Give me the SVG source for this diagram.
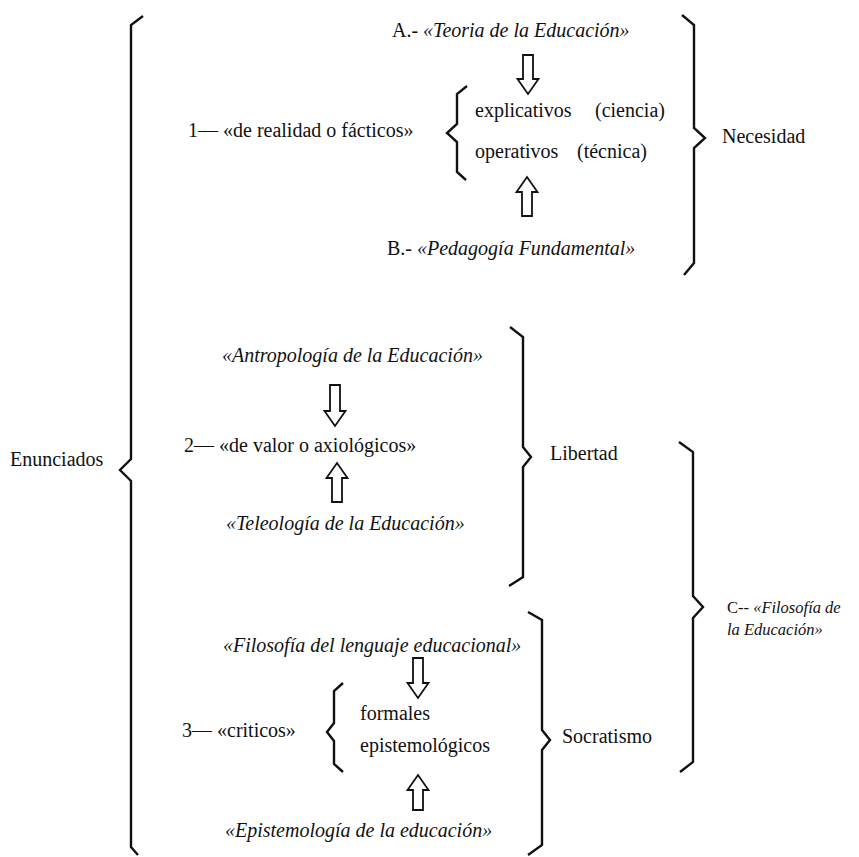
<svg xmlns="http://www.w3.org/2000/svg" width="859" height="857" viewBox="0 0 859 857">
<style>
text{font-family:"Liberation Serif","Times New Roman",serif;font-size:20px;fill:#111}
.it{font-style:italic}
.sm{font-size:16.5px}
.br{fill:none;stroke:#111;stroke-width:2.4;stroke-linejoin:miter}
.ar{fill:#fff;stroke:#111;stroke-width:1.8;stroke-linejoin:miter}
</style>
<rect width="859" height="857" fill="#fff"/>
<g id="connectors">
<path class="br" d="M143,16 L131,25 L131,459 L120,470 L131,481 L131,847 L138,855"/>
<path class="br" d="M467,86 L457,94 L457,124 L447,133 L457,142 L457,172 L466,180"/>
<path class="br" d="M682,15 L694,25 L694,128 L705,138 L694,148 L694,263 L684,275"/>
<path class="br" d="M510,327 L523,337 L523,447 L531,457 L523,467 L523,577 L509,586"/>
<path class="br" d="M679,442 L693,452 L693,596 L703,607 L693,618 L693,762 L680,772"/>
<path class="br" d="M343,683 L334,691 L334,723 L327,732 L334,741 L334,764 L343,772"/>
<path class="br" d="M528,612 L542,620 L542,730 L550,740 L542,750 L542,845 L528,855"/>
<polygon class="ar" points="523,55 533,55 533,79 538.5,79 528,94 517.5,79 523,79"/>
<polygon class="ar" points="527,177 537.5,192 532,192 532,216 522,216 522,192 516.5,192"/>
<polygon class="ar" points="330,385 340,385 340,411 345.5,411 335,426 324.5,411 330,411"/>
<polygon class="ar" points="337,463 347.5,478 342,478 342,502 332,502 332,478 326.5,478"/>
<polygon class="ar" points="413,658 423,658 423,683 428.5,683 418,698 407.5,683 413,683"/>
<polygon class="ar" points="418,775 428.5,790 423,790 423,810 413,810 413,790 407.5,790"/>
</g>
<g id="enunciados"><text x="10" y="466">Enunciados</text></g>
<g id="teoria"><text x="392" y="37">A.- <tspan class="it">«Teoria de la Educación»</tspan></text></g>
<g id="facticos"><text x="188" y="137">1—  «de realidad o fácticos»</text></g>
<g id="explicativos"><text x="475" y="117">explicativos</text><text x="595" y="117">(ciencia)</text></g>
<g id="operativos"><text x="475" y="158">operativos</text><text x="577" y="158">(técnica)</text></g>
<g id="pedagogia"><text x="387" y="255">B.- <tspan class="it">«Pedagogía Fundamental»</tspan></text></g>
<g id="necesidad"><text x="722" y="143">Necesidad</text></g>
<g id="antropologia"><text class="it" x="222" y="362">«Antropología de la Educación»</text></g>
<g id="axiologicos"><text x="184" y="452">2—  «de valor o axiológicos»</text></g>
<g id="teleologia"><text class="it" x="226" y="530">«Teleología de la Educación»</text></g>
<g id="libertad"><text x="550" y="460">Libertad</text></g>
<g id="filosofia-educacion"><text class="sm" x="727" y="613">C-- <tspan class="it">«Filosofía de</tspan></text><text class="sm it" x="727" y="635">la Educación»</text></g>
<g id="lenguaje"><text class="it" x="223" y="652">«Filosofía del lenguaje educacional»</text></g>
<g id="criticos"><text x="182" y="737">3—  «criticos»</text></g>
<g id="formales"><text x="360" y="720">formales</text></g>
<g id="epistemologicos"><text x="360" y="752">epistemológicos</text></g>
<g id="epistemologia"><text class="it" x="225" y="837">«Epistemología de la educación»</text></g>
<g id="socratismo"><text x="562" y="743">Socratismo</text></g>
</svg>
